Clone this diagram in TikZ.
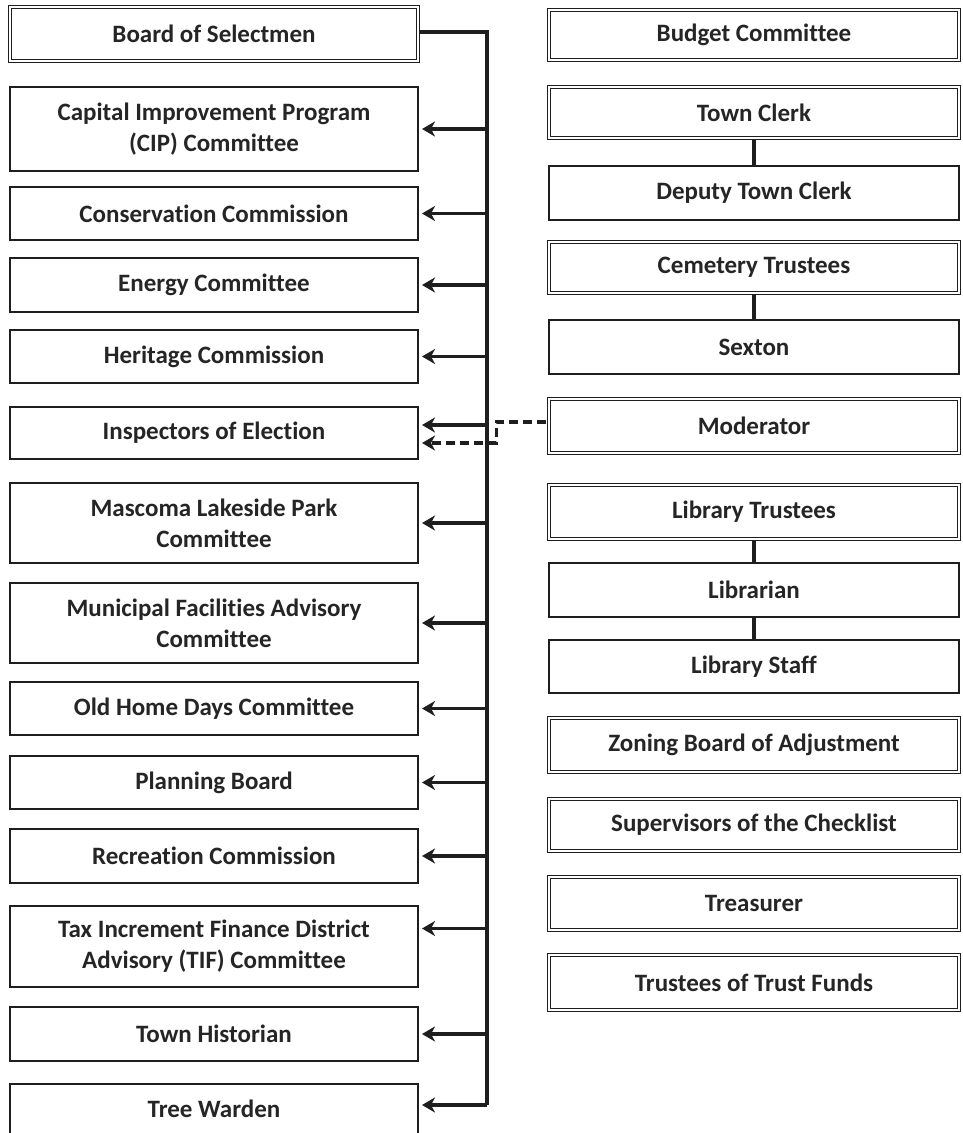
\documentclass[tikz,border=0pt]{standalone}
\usepackage{fontspec}
\setmainfont[Ligatures=NoCommon]{Carlito}
\usetikzlibrary{arrows.meta}
\definecolor{ink}{HTML}{1E1E1E}
\definecolor{txt}{HTML}{252525}
\begin{document}
\begin{tikzpicture}[x=1pt,y=-1pt,
  base/.style={draw=ink, inner sep=0pt, align=center, text=txt,
    font=\fontsize{25}{31}\selectfont\bfseries},
  lbox/.style={base, line width=2pt, minimum width=408pt},
  rbox/.style={base, line width=2pt, minimum width=410pt},
  dbl/.style={line width=1.4pt, double=white, double distance=1.8pt},
  bus/.style={draw=ink, line width=3.5pt},
  arr/.style={draw=ink, line width=3.5pt, -{Stealth[length=13pt,width=15pt,inset=4pt]}, shorten >=3pt},
  darr/.style={arr, dash pattern=on 9pt off 5pt},
  link/.style={draw=ink, line width=3.5pt}]
\useasboundingbox[fill=white] (0,0) rectangle (963,1133);

% left column
\node[lbox, dbl, minimum height=54pt] (board) at (214,34) {Board of Selectmen};
\node[lbox, minimum height=84pt] (cip) at (214,129) {Capital Improvement Program\\(CIP) Committee};
\node[lbox, minimum height=53pt] (cons) at (214,213.5) {Conservation Commission};
\node[lbox, minimum height=54pt] (energy) at (214,285) {Energy Committee};
\node[lbox, minimum height=53pt] (herit) at (214,356.5) {Heritage Commission};
\node[lbox, minimum height=52pt] (insp) at (214,433) {Inspectors of Election};
\node[lbox, minimum height=80pt] (masc) at (214,523) {Mascoma Lakeside Park\\Committee};
\node[lbox, minimum height=80pt] (muni) at (214,623) {Municipal Facilities Advisory\\Committee};
\node[lbox, minimum height=53pt] (oldh) at (214,708.5) {Old Home Days Committee};
\node[lbox, minimum height=53pt] (plan) at (214,782.5) {Planning Board};
\node[lbox, minimum height=54pt] (recr) at (214,856) {Recreation Commission};
\node[lbox, minimum height=81pt] (tif) at (214,946.5) {Tax Increment Finance District\\Advisory (TIF) Committee};
\node[lbox, minimum height=54pt] (hist) at (214,1034) {Town Historian};
\node[lbox, minimum height=56pt] (tree) at (214,1112) {\raisebox{7pt}{Tree Warden}};

% right column
\node[rbox, dbl, minimum height=50pt] (budget) at (754,35) {Budget Committee};
\node[rbox, dbl, minimum height=51pt] (clerk) at (754,112.5) {Town Clerk};
\node[rbox, minimum height=54pt] (deputy) at (754,193) {Deputy Town Clerk};
\node[rbox, dbl, minimum height=51pt] (cem) at (754,267.5) {Cemetery Trustees};
\node[rbox, minimum height=54pt] (sexton) at (754,347) {Sexton};
\node[rbox, dbl, minimum height=54pt] (mod) at (754,426) {Moderator};
\node[rbox, dbl, minimum height=54pt] (libt) at (754,512) {Library Trustees};
\node[rbox, minimum height=54pt] (lib) at (754,590) {Librarian};
\node[rbox, minimum height=53pt] (libs) at (754,666.5) {Library Staff};
\node[rbox, dbl, minimum height=54pt] (zba) at (754,745) {Zoning Board of Adjustment};
\node[rbox, dbl, minimum height=52pt] (sup) at (754,825) {Supervisors of the Checklist};
\node[rbox, dbl, minimum height=53pt] (treas) at (754,903.5) {Treasurer};
\node[rbox, dbl, minimum height=55pt] (ttf) at (754,982.5) {Trustees of Trust Funds};

% bus
\coordinate (bx) at (487,0);
\coordinate (tw) at ([yshift=7pt]tree.east);
\draw[bus] ([yshift=2pt,xshift=1pt]board.east) -| (bx |- tw);

\foreach \n in {cip,cons,energy,herit,masc,muni,oldh,plan,recr,hist}
  \draw[arr] (bx |- \n.east) -- (\n.east);
\draw[arr] (bx |- tw) -- (tw);
\coordinate (tifa) at ([yshift=18pt]tif.east);
\draw[arr] (bx |- tifa) -- (tifa);
\coordinate (insa) at ([yshift=8pt]insp.east);
\draw[arr] (bx |- insa) -- (insa);

% dashed from moderator
\draw[darr] ([yshift=4pt,xshift=-2pt]mod.west) -- ++(-50,0) |- ([yshift=-10pt]insp.east);

% right links
\draw[link] (clerk.south) -- (deputy.north);
\draw[link] (cem.south) -- (sexton.north);
\draw[link] (libt.south) -- (lib.north);
\draw[link] (lib.south) -- (libs.north);
\end{tikzpicture}
\end{document}
